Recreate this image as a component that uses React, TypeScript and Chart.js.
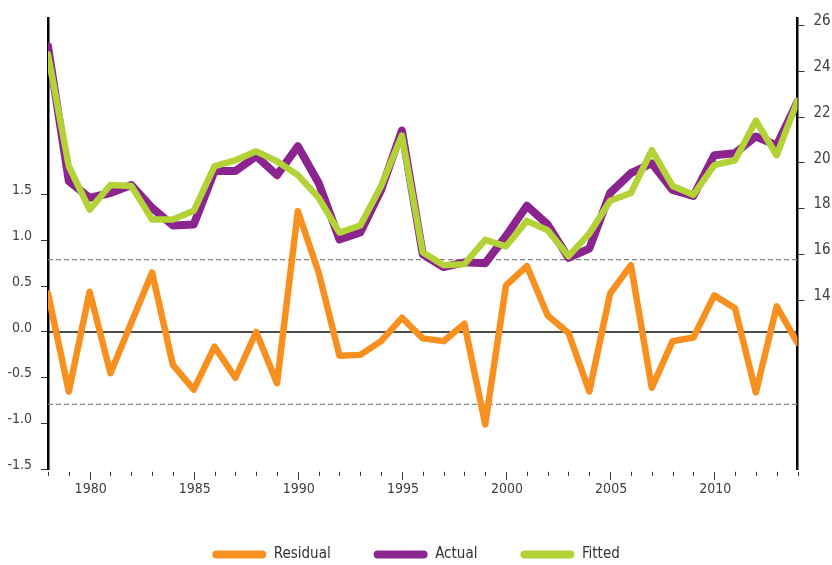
import { useEffect, useRef } from 'react';
import { Chart, registerables } from 'chart.js';

Chart.register(...registerables);

const years = [
  1978, 1979, 1980, 1981, 1982, 1983, 1984, 1985, 1986, 1987,
  1988, 1989, 1990, 1991, 1992, 1993, 1994, 1995, 1996, 1997,
  1998, 1999, 2000, 2001, 2002, 2003, 2004, 2005, 2006, 2007,
  2008, 2009, 2010, 2011, 2012, 2013, 2014,
];

const residual = [
  0.42, -0.65, 0.44, -0.45, 0.10, 0.65, -0.36, -0.63, -0.16, -0.50,
  0.00, -0.56, 1.32, 0.65, -0.26, -0.25, -0.10, 0.155, -0.07, -0.10,
  0.09, -1.01, 0.51, 0.72, 0.18, -0.01, -0.65, 0.42, 0.73, -0.61,
  -0.10, -0.06, 0.40, 0.26, -0.66, 0.28, -0.12,
];

const actual = [
  25.09, 19.20, 18.47, 18.68, 19.03, 18.03, 17.26, 17.30, 19.64, 19.64,
  20.29, 19.46, 20.72, 19.12, 16.65, 16.95, 18.81, 21.41, 16.00, 15.44,
  15.65, 15.61, 16.80, 18.12, 17.30, 15.84, 16.25, 18.68, 19.55, 19.98,
  18.81, 18.55, 20.33, 20.42, 21.15, 20.76, 22.67,
];

const fitted = [
  24.74, 19.85, 17.95, 19.03, 18.99, 17.52, 17.52, 17.90, 19.85, 20.11,
  20.50, 20.07, 19.46, 18.47, 16.95, 17.26, 18.99, 21.19, 16.09, 15.52,
  15.57, 16.63, 16.35, 17.46, 17.05, 15.92, 16.90, 18.34, 18.68, 20.55,
  18.99, 18.60, 19.90, 20.11, 21.84, 20.33, 22.71,
];

const leftTicks = [-1.5, -1.0, -0.5, 0.0, 0.5, 1.0, 1.5];
const rightTicks = [14, 16, 18, 20, 22, 24, 26];
const labeledYears = [1980, 1985, 1990, 1995, 2000, 2005, 2010];
const bandLevel = 0.79;
const legendOrder = ['Residual', 'Actual', 'Fitted'];

const COLORS = {
  residual: '#F7901E',
  actual: '#8C2490',
  fitted: '#B2D235',
};

const FONT = "'Liberation Sans Narrow', 'DejaVu Sans Condensed', 'Arial Narrow', sans-serif";

const refLines = {
  id: 'refLines',
  beforeDatasetsDraw(chart: any) {
    const { ctx, chartArea } = chart;
    const yL = chart.scales.y;
    ctx.save();
    ctx.strokeStyle = '#858585';
    ctx.lineWidth = 1.2;
    ctx.setLineDash([5, 3]);
    [bandLevel, -bandLevel].forEach((v) => {
      const py = yL.getPixelForValue(v);
      ctx.beginPath();
      ctx.moveTo(chartArea.left, py);
      ctx.lineTo(chartArea.right, py);
      ctx.stroke();
    });
    ctx.setLineDash([]);
    ctx.strokeStyle = '#111';
    ctx.lineWidth = 1.6;
    const pz = yL.getPixelForValue(0);
    ctx.beginPath();
    ctx.moveTo(chartArea.left, pz);
    ctx.lineTo(chartArea.right, pz);
    ctx.stroke();
    ctx.restore();
  },
  afterDraw(chart: any) {
    const { ctx, chartArea } = chart;
    const xs = chart.scales.x;
    ctx.save();
    ctx.strokeStyle = '#333';
    ctx.lineWidth = 1;
    const top = chartArea.bottom + 2.5;
    years.forEach((yr) => {
      const px = Math.round(xs.getPixelForValue(yr)) + 0.5;
      const len = yr % 5 === 0 ? 8 : 4;
      ctx.beginPath();
      ctx.moveTo(px, top);
      ctx.lineTo(px, top + len);
      ctx.stroke();
    });
    ctx.restore();
  },
};

export default function App() {
  const ref = useRef<HTMLCanvasElement | null>(null);

  useEffect(() => {
    if (!ref.current) return;
    Chart.defaults.font.family = FONT;
    Chart.defaults.color = '#404040';

    const toPts = (arr: number[]) => years.map((yr, i) => ({ x: yr, y: arr[i] }));
    const common = {
      pointRadius: 0,
      pointHoverRadius: 0,
      tension: 0,
      fill: false,
      borderJoinStyle: 'round' as const,
      borderCapStyle: 'round' as const,
    };

    const chart = new Chart(ref.current, {
      type: 'line',
      data: {
        datasets: [
          {
            ...common,
            label: 'Fitted',
            data: toPts(fitted),
            borderColor: COLORS.fitted,
            backgroundColor: COLORS.fitted,
            borderWidth: 6.5,
            yAxisID: 'y1',
          },
          {
            ...common,
            label: 'Actual',
            data: toPts(actual),
            borderColor: COLORS.actual,
            backgroundColor: COLORS.actual,
            borderWidth: 8,
            yAxisID: 'y1',
          },
          {
            ...common,
            label: 'Residual',
            data: toPts(residual),
            borderColor: COLORS.residual,
            backgroundColor: COLORS.residual,
            borderWidth: 6.5,
            yAxisID: 'y',
          },
        ],
      },
      options: {
        responsive: false,
        animation: false,
        devicePixelRatio: 1,
        events: [],
        layout: { padding: { top: 13, left: 0, right: 0, bottom: 0 } },
        plugins: {
          tooltip: { enabled: false },
          legend: {
            position: 'bottom',
            labels: {
              boxWidth: 54,
              boxHeight: 8,
              padding: 43,
              useBorderRadius: true,
              borderRadius: 4,
              color: '#333',
              font: { size: 15, family: FONT },
              generateLabels(c: any) {
                return legendOrder.map((name) => {
                  const i = c.data.datasets.findIndex((d: any) => d.label === name);
                  const ds = c.data.datasets[i];
                  return {
                    text: name,
                    fillStyle: ds.borderColor,
                    strokeStyle: ds.borderColor,
                    lineWidth: 0,
                    hidden: false,
                    datasetIndex: i,
                    borderRadius: 4,
                    fontColor: '#333',
                  };
                });
              },
            },
          },
        },
        scales: {
          x: {
            type: 'linear',
            min: years[0],
            max: years[years.length - 1],
            grid: { display: false, drawTicks: false },
            border: { display: false },
            afterBuildTicks(scale: any) {
              scale.ticks = labeledYears.map((v) => ({ value: v }));
            },
            afterFit(scale: any) {
              scale.height = 34.7;
            },
            ticks: {
              autoSkip: false,
              maxRotation: 0,
              padding: 12,
              labelOffset: 1,
              color: '#404040',
              font: { size: 14 },
              callback: (v: any) => String(v),
            },
          },
          y: {
            type: 'linear',
            position: 'left',
            min: -1.5,
            max: 3.43,
            afterBuildTicks(scale: any) {
              scale.ticks = leftTicks.map((v) => ({ value: v }));
            },
            afterFit(scale: any) {
              scale.width = 48;
            },
            grid: { drawOnChartArea: false, drawTicks: true, tickLength: 7, color: '#333', lineWidth: 1 },
            border: { display: true, color: '#000', width: 2.5 },
            ticks: {
              padding: 9,
              labelOffset: -4,
              color: '#404040',
              font: { size: 14 },
              callback: (v: any) => Number(v).toFixed(1),
            },
          },
          y1: {
            type: 'linear',
            position: 'right',
            min: 6.6,
            max: 26.33,
            afterBuildTicks(scale: any) {
              scale.ticks = rightTicks.map((v) => ({ value: v }));
            },
            afterFit(scale: any) {
              scale.width = 34.5;
            },
            grid: { drawOnChartArea: false, drawTicks: true, tickLength: 7, color: '#333', lineWidth: 1 },
            border: { display: true, color: '#000', width: 2.5 },
            ticks: {
              padding: 9,
              labelOffset: -4,
              color: '#404040',
              font: { size: 15 },
              callback: (v: any) => String(v),
            },
          },
        },
      },
      plugins: [refLines],
    } as any);

    return () => chart.destroy();
  }, []);

  return (
    <div style={{ position: 'fixed', left: 0, top: 0, width: 832, height: 572, background: '#fff' }}>
      <canvas ref={ref} width={832} height={572} style={{ display: 'block' }} />
    </div>
  );
}
